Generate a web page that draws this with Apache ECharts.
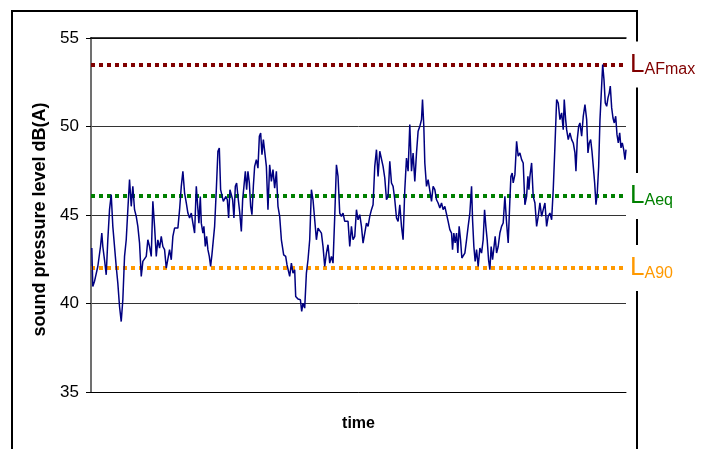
<!DOCTYPE html>
<html>
<head>
<meta charset="utf-8">
<script src="https://cdn.jsdelivr.net/npm/echarts@6/dist/echarts.min.js"></script>
<style>html,body{margin:0;padding:0;background:#fff}#c{width:714px;height:449px}</style>
</head>
<body>
<div id="c"></div>
<script>
// time (s) of each reading
var times = [0.8,1.8,3.5,5.2,6.8,8.5,9.5,10.8,11.8,13.5,15.2,16.8,18.5,20.2,21.8,23.5,25.2,26.8,28.5,30.2,31.8,33.5,35.2,36.8,38.5,40.2,41.8,43.5,45.2,46.8,48.5,50.2,51.8,53.5,55.2,56.8,58.5,60.2,61.8,63.5,65.2,66.8,68.5,70.2,71.8,73.5,75.2,76.8,78.5,80.2,81.8,83.5,85.2,86.8,88.5,90.2,91.8,93.5,95.2,96.8,98.5,100.2,101.8,103.5,105.2,106.8,107.8,109.2,110.2,111.8,112.8,114.2,115.5,116.8,118.2,119.5,120.8,122.2,123.5,125.2,126.8,128.2,129.5,130.8,132.2,133.5,134.8,136.2,137.5,138.8,140.2,141.5,142.8,144.2,145.5,146.8,148.5,150.2,151.5,152.8,154.2,155.5,156.8,158.2,159.5,160.8,162.2,163.5,165.2,166.8,168.2,169.5,170.8,172.2,173.5,
175.2,176.8,178.5,180.2,181.8,183.5,185.2,186.8,188.5,190.2,191.8,192.5,194.5,195.8,197.2,198.5,200.2,201.8,203.5,204.5,206.8,209.2,210.5,211.8,213.5,215.2,216.8,218.5,220.2,221.8,223.5,225.2,226.8,228.5,230.2,231.8,233.5,235.2,236.8,238.5,240.2,241.8,243.5,245.2,246.8,248.5,250.2,251.8,253.5,255.2,256.8,258.5,260.2,261.8,263.5,265.2,266.8,268.5,270.2,271.8,273.5,275.2,276.8,278.5,280.2,281.8,283.5,285.2,286.8,288.5,290.2,291.8,293.5,295.2,296.8,298.5,300.2,301.8,303.5,305.2,306.8,308.5,310.2,311.8,313.5,315.2,316.8,318.5,320.2,321.8,323.5,325.2,326.8,328.5,330.2,331.2,332.5,333.5,335.2,336.8,338.5,340.2,341.8,343.5,345.2,346.8,348.5,
350.2,351.8,353.5,355.2,356.8,358.5,360.2,361.2,362.5,363.8,365.2,366.5,367.8,369.2,370.5,371.8,373.5,375.2,376.8,378.5,380.2,381.2,382.5,383.8,385.2,386.8,388.5,390.2,391.8,393.2,394.5,395.8,397.2,398.5,399.8,401.2,402.5,403.8,405.2,406.8,408.5,410.2,411.8,413.5,415.2,416.8,418.5,419.5,420.8,421.8,423.5,425.2,426.8,428.5,430.2,431.8,433.5,435.2,436.5,437.5,438.5,440.2,441.8,443.5,445.2,446.8,448.5,450.2,451.8,453.5,455.2,456.8,458.5,460.2,461.8,463.5,465.2,466.8,468.5,470.2,471.8,472.8,474.2,475.2,476.8,478.5,480.2,481.8,483.5,484.5,485.8,487.2,488.5,490.2,491.8,493.5,495.2,496.5,497.8,499.2,500.5,501.8,503.2,504.5,505.8,507.2,508.5,509.8,511.2,512.5,513.8,515.2,516.5,517.8,518.8,520.2,521.5,522.8,524.2,525.5,526.8,528.2,529.5,530.8,532.2,533.5,534.5];
// sound pressure level dB(A)
var levels = [43.13,40.96,41.25,41.34,42.09,42.09,43.22,43.98,43.22,42.47,41.62,43.6,45.3,46.15,44.36,44.26,42.09,41.15,39.83,38.98,40.21,42.66,43.6,45.3,47.0,45.49,46.62,45.3,44.92,44.36,43.41,41.53,42.38,42.28,42.66,43.6,43.22,42.66,45.77,44.36,42.66,43.6,43.13,43.79,43.22,43.04,42.0,41.9,43.04,42.47,43.79,44.26,44.26,44.26,45.3,46.62,47.47,46.24,45.68,45.11,44.83,45.11,44.54,43.98,46.62,46.71,44.54,46.05,44.54,43.98,44.36,43.22,43.79,43.04,42.66,42.09,42.75,42.66,44.36,46.43,48.6,48.79,46.43,46.34,45.77,45.68,46.05,45.86,44.83,46.43,46.15,45.86,44.83,46.62,46.81,46.05,45.2,44.07,45.86,46.62,47.47,46.43,47.47,46.81,45.49,45.02,46.62,47.75,48.13,47.65,49.45,49.63,48.41,49.26,49.35,
47.75,45.3,47.84,46.9,47.56,46.52,47.47,45.49,44.92,43.6,43.51,42.75,42.66,42.19,42.28,41.53,42.28,41.72,41.9,40.4,40.25,40.21,39.55,40.02,39.74,41.72,42.47,43.6,46.43,45.86,44.73,43.6,44.26,44.26,43.98,43.22,42.09,42.85,43.32,42.28,42.66,42.28,44.92,47.84,47.18,45.11,44.92,45.11,44.64,44.73,44.64,43.22,44.36,43.6,43.79,45.3,44.73,45.02,44.36,43.41,43.32,44.54,44.36,44.92,45.3,45.58,47.75,48.69,47.18,48.6,48.69,47.75,47.09,45.86,46.05,48.03,46.81,46.62,45.86,44.83,44.64,45.58,44.36,43.6,46.43,48.22,47.47,50.11,47.47,48.5,46.9,48.5,49.73,50.01,50.39,51.52,50.01,47.94,46.62,47.0,47.09,45.77,46.62,46.43,45.86,45.68,45.39,
45.68,45.3,45.49,45.49,44.64,44.17,43.98,43.04,43.98,43.42,43.98,42.85,44.36,43.6,42.57,42.57,42.85,43.6,44.36,45.11,46.62,44.73,43.22,42.38,43.04,42.09,43.13,42.85,43.6,45.3,44.36,43.6,42.47,41.91,43.22,42.47,43.13,43.79,42.85,43.22,43.98,44.36,44.55,46.05,44.55,43.42,45.87,47.18,47.37,46.81,47.28,49.16,48.32,48.51,48.13,47.94,45.58,46.05,47.18,46.43,47.18,47.94,46.05,45.68,44.36,44.92,45.68,44.92,45.3,45.68,44.36,44.92,45.11,44.73,46.43,48.88,51.52,51.33,50.39,50.77,49.82,51.52,50.39,49.82,49.26,49.64,49.26,49.07,48.51,47.47,49.26,50.01,50.2,49.45,50.58,51.24,50.39,48.51,49.07,49.26,48.6,47.75,46.81,45.58,46.24,47.75,50.39,50.48,53.5,52.65,51.33,51.14,51.62,51.9,52.28,51.05,50.48,50.2,50.58,49.54,49.07,49.64,48.79,49.07,48.69,48.13,48.69];
// reference levels
var refNames = ['AFmax', 'Aeq', 'A90'];
var refValues = [53.5, 46.08, 42.0];
var refColors = ['#800000', '#008000', '#FF9900'];
var yTicks = [35, 40, 45, 50, 55];

var font = "'Liberation Sans', Arial, sans-serif";
var pts = times.map(function (t, i) { return [t, levels[i]]; });

var markData = refNames.map(function (n, i) {
  return {
    yAxis: refValues[i],
    lineStyle: { color: refColors[i], type: [4, 4], width: 4, cap: 'butt' },
    label: {
      show: true, position: 'end', distance: 1,
      formatter: '{a|L}{b|' + n + '}',
      backgroundColor: '#fff',
      padding: [10, 4, 10, 3],
      rich: {
        a: { fontSize: 26, lineHeight: 26, color: refColors[i], fontFamily: font },
        b: { fontSize: 16, lineHeight: 10, verticalAlign: 'bottom', color: refColors[i], fontFamily: font }
      }
    }
  };
});

var chart = echarts.init(document.getElementById('c'), null, { renderer: 'canvas' });
chart.setOption({
  animation: false,
  backgroundColor: '#fff',
  textStyle: { fontFamily: font },
  graphic: [{
    type: 'rect', z: 0, silent: true,
    shape: { x: 12, y: 11, width: 625, height: 460 },
    style: { fill: 'none', stroke: '#000', lineWidth: 2 }
  }],
  grid: { left: 91, right: 88, top: 38, bottom: 57, show: false },
  xAxis: [{
    type: 'value', min: 0, max: 534.5,
    name: 'time', nameLocation: 'middle', nameGap: 24,
    nameTextStyle: { fontSize: 16, fontWeight: 'bold', color: '#000', fontFamily: font },
    axisLine: { show: true, lineStyle: { color: '#000', width: 1 } },
    axisTick: { show: false }, axisLabel: { show: false }, splitLine: { show: false }
  }, {
    type: 'value', min: 0, max: 534.5, position: 'top',
    axisLine: { show: true, onZero: false, lineStyle: { color: '#000', width: 1.5 } },
    axisTick: { show: false }, axisLabel: { show: false }, splitLine: { show: false }
  }],
  yAxis: [{
    type: 'value', min: yTicks[0], max: yTicks[yTicks.length - 1], interval: 5,
    name: 'sound pressure level dB(A)', nameLocation: 'middle', nameGap: 40,
    nameTextStyle: { fontSize: 18, fontWeight: 'bold', color: '#000', fontFamily: font, padding: [0, 0, 0, -9] },
    axisLine: { show: true, lineStyle: { color: '#000', width: 1.5 } },
    axisTick: { show: true, length: 5, inside: false, lineStyle: { color: '#000' } },
    axisLabel: { fontSize: 17, color: '#000', margin: 12, fontFamily: font },
    splitLine: { show: true, lineStyle: { color: '#333', width: 1 } }
  }, {
    type: 'value', min: 35, max: 55, interval: 5, position: 'right',
    axisLine: { show: true, lineStyle: { color: '#808080', width: 1.5 } },
    axisTick: { show: false }, axisLabel: { show: false }, splitLine: { show: false }
  }],
  series: [{
    type: 'line', data: pts, showSymbol: false, symbol: 'none',
    lineStyle: { color: '#000080', width: 1.5 },
    z: 3,
    markLine: { silent: true, symbol: ['none', 'none'], data: markData, z: 2 }
  }]
});
</script>
</body>
</html>
